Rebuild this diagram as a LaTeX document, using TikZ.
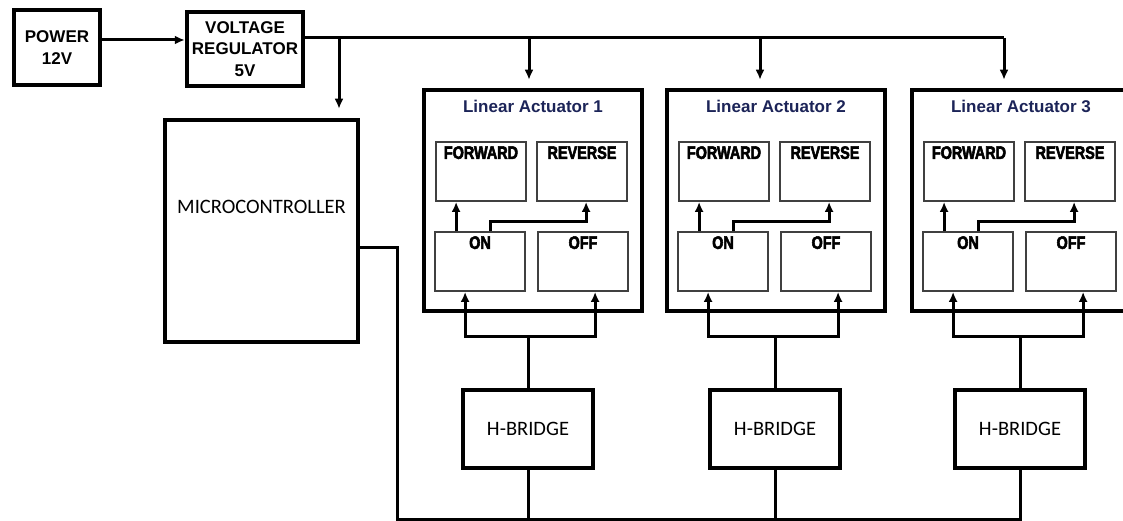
\documentclass[tikz,border=0pt]{standalone}
\usepackage{fontspec}
\usepackage{xcolor}
\usetikzlibrary{arrows.meta,calc}
\setmainfont{Liberation Sans}
\newfontfamily\calfont{Carlito}
\newfontfamily\keyfont[FakeStretch=0.8,FakeBold=3]{Liberation Sans}
\definecolor{ttlblue}{RGB}{28,36,88}

\begin{document}
\begin{tikzpicture}
  [x=1pt,y=-1pt,
   blk/.style={draw,line width=4.5pt,inner sep=0pt,align=center,
     font=\fontsize{17}{21.5}\selectfont\bfseries},
   act/.style={draw,line width=4.5pt,minimum width=218pt,minimum height=221pt},
   ttl/.style={text=ttlblue,font=\fontsize{17}{20}\selectfont\bfseries},
   keybox/.style={draw=black!75,line width=1.8pt,minimum width=90pt,minimum height=59pt},
   keylbl/.style={anchor=north,inner sep=0pt,yshift=-5pt,font=\fontsize{18}{20}\keyfont\bfseries},
   hbox/.style={draw,line width=3.5pt,minimum width=130pt,minimum height=78pt,
     font=\fontsize{20.5}{24}\calfont},
   wire/.style={line width=3pt},
   arr/.style={wire,-{Latex[length=10pt,width=9pt]}}]
  \fill[white] (0,0) rectangle (1123,521);
  \useasboundingbox (0,0) rectangle (1123,521);

  \node[blk,minimum width=86pt,minimum height=75pt] (pwr) at (57,47.5) {POWER\\12V};
  \node[blk,minimum width=116pt,minimum height=74pt] (reg) at (245,49) {VOLTAGE\\REGULATOR\\5V};
  \node[draw,line width=4.5pt,minimum width=193pt,minimum height=222pt,
    label={[yshift=24pt,font=\fontsize{20.5}{24}\calfont]center:MICROCONTROLLER}] (micro) at (261.5,231) {};

  \draw[arr] ([yshift=7.5pt]pwr.east) -- ([yshift=7.5pt]pwr.east -| reg.west);

  \foreach \i/\x/\hx/\tx in {1/533/528/529, 2/776/775/760, 3/1021/1020/1004} {
    \node[act] (act\i) at (\x,200.5) {};
    \node[ttl] (ttl\i) at ([yshift=-19pt]act\i.north) {Linear Actuator \i};
    \node[keybox,label={[keylbl]north:FORWARD}] (fwd\i) at ($(act\i)+(-52,-29)$) {};
    \node[keybox,label={[keylbl]north:REVERSE}] (rev\i) at ($(act\i)+(49,-29)$) {};
    \node[keybox,label={[keylbl]north:ON}] (on\i) at ($(act\i)+(-53,61)$) {};
    \node[keybox,label={[keylbl]north:OFF}] (off\i) at ($(act\i)+(50,61)$) {};
    \node[hbox] (hb\i) at (\hx,429) {H-BRIDGE};

    % ON -> FORWARD / REVERSE
    \coordinate (p\i) at ([xshift=22pt]on\i.north west);
    \coordinate (q\i) at ([xshift=56pt]on\i.north west);
    \coordinate (r\i) at ([xshift=50pt]rev\i.south west);
    \draw[arr] (p\i) -- (p\i |- fwd\i.south);
    \draw[arr] (q\i) -- ++(0,-10) -| (r\i);

    % H-bridge -> ON / OFF
    \coordinate (j\i) at (\hx,336);
    \draw[wire] (hb\i.north) -- (j\i);
    \draw[arr] (j\i) -| ([xshift=31pt]on\i.south west);
    \draw[arr] (j\i) -| ([xshift=58pt]off\i.south west);

    % supply
    \coordinate (tap\i) at (\tx,38);
    \draw[arr,shorten >=8pt] (tap\i) -- (tap\i |- act\i.north);
  }

  \coordinate (tapm) at (339,38);
  \draw[wire] ([yshift=11pt]reg.east) -- (tap3);
  \draw[arr,shorten >=9pt] (tapm) -- (tapm |- micro.north);

  % control bus
  \coordinate (mo) at ([xshift=-4pt,yshift=-16pt]micro.east);
  \coordinate (busL) at (397,519);
  \draw[wire] (mo) -| (busL) -| (hb3.south);
  \foreach \i in {1,2}
    \draw[wire] (hb\i.south) -- (hb\i.south |- busL);

\end{tikzpicture}
\end{document}
